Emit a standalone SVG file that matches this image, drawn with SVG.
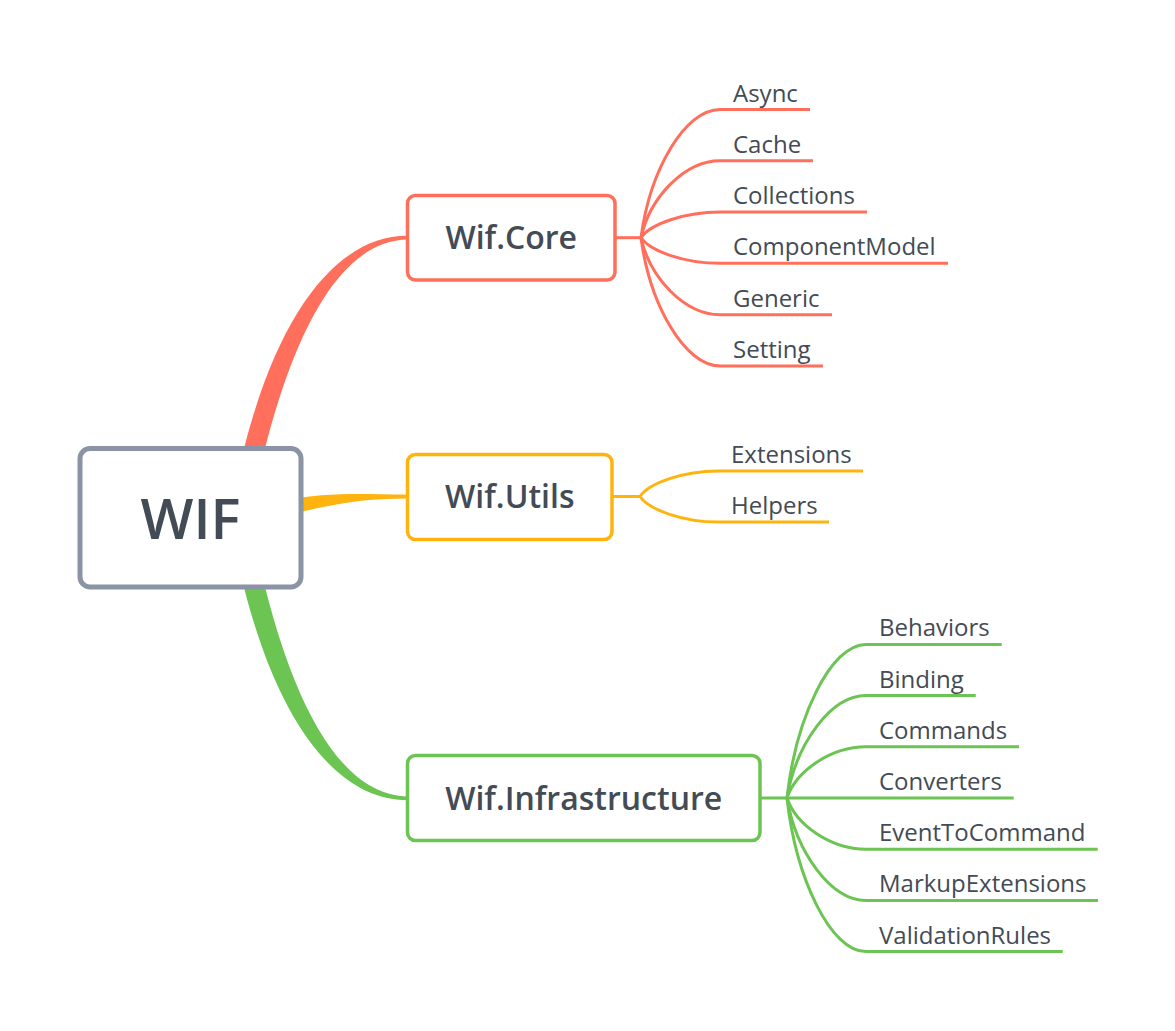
<svg xmlns="http://www.w3.org/2000/svg" width="1175" height="1031" viewBox="0 0 1175 1031">
<style>
.bg{fill:#ffffff}
.red{stroke:#ff6f5b}
.org{stroke:#ffb30f}
.grn{stroke:#6cc452}
.ln{fill:none;stroke-width:3;stroke-linecap:butt}
.box{fill:#ffffff;stroke-width:3.5}
.t{font-family:"Open Sans","Noto Sans","Liberation Sans",sans-serif;fill:#434b55}
.lbl{font-size:24px}
.main{font-size:32px;font-weight:600;text-anchor:middle}
.root{font-size:56px;font-weight:600;text-anchor:middle}
</style>
<rect class="bg" x="0" y="0" width="1175" height="1031"/>
<g id="connectors">
  <path d="M235,488 C270,317 336,235.5 407.5,235.8 L407.5,239.6 C344,240.5 291,323 255,492 Z" fill="#ff6f5b"/>
  <path d="M280,501 C330,491.5 360,494.5 407.5,494.5 L407.5,498.5 C360,498.5 330,504.5 280,517 Z" fill="#ffb30f"/>
  <path d="M235,548 C270,719 336,800.5 407.5,800.2 L407.5,796.4 C344,795.5 291,713 255,544 Z" fill="#6cc452"/>
  <g class="ln red">
    <path d="M615,237.7 H641"/>
    <path d="M641,237.7 C650,169.7 685,109.45 720,109.45 H810"/>
    <path d="M641,237.7 C650,196.9 685,160.75 720,160.75 H813"/>
    <path d="M641,237.7 C650,224.1 685,212.05 720,212.05 H867"/>
    <path d="M641,237.7 C650,251.3 685,263.35 720,263.35 H948"/>
    <path d="M641,237.7 C650,278.5 685,314.65 720,314.65 H832"/>
    <path d="M641,237.7 C650,305.7 685,365.95 720,365.95 H823"/>
  </g>
  <g class="ln org">
    <path d="M612,496.5 H640"/>
    <path d="M640,496.5 C649,483 684,471 718,471 H863"/>
    <path d="M640,496.5 C649,510 684,522 718,522 H829"/>
  </g>
  <g class="ln grn">
    <path d="M760,798 H787"/>
    <path d="M787,798 C796,716.6 831,644.4 866,644.4 H1001.7"/>
    <path d="M787,798 C796,743.7 831,695.6 866,695.6 H975.7"/>
    <path d="M787,798 C796,770.9 831,746.8 866,746.8 H1019"/>
    <path d="M787,798 H1013.7"/>
    <path d="M787,798 C796,825.1 831,849.2 866,849.2 H1097.7"/>
    <path d="M787,798 C796,852.3 831,900.4 866,900.4 H1098"/>
    <path d="M787,798 C796,879.4 831,951.6 866,951.6 H1062.7"/>
  </g>
</g>
<g id="root">
  <rect x="80" y="448.5" width="221" height="138.5" rx="10" fill="#ffffff" stroke="#8a94a4" stroke-width="5"/>
  <text class="t root" x="190.5" y="539">WIF</text>
</g>
<g id="core">
  <rect class="box red" x="407.5" y="195.5" width="207.5" height="84.5" rx="8"/>
  <text class="t main" x="511.2" y="248.5">Wif.Core</text>
</g>
<g id="utils">
  <rect class="box org" x="407.5" y="454.5" width="204.5" height="85" rx="8"/>
  <text class="t main" x="509.8" y="508">Wif.Utils</text>
</g>
<g id="infra">
  <rect class="box grn" x="407.5" y="755.5" width="352.5" height="85" rx="8"/>
  <text class="t main" x="583.7" y="810">Wif.Infrastructure</text>
</g>
<g id="core-children" class="t lbl">
  <text x="733" y="101.5">Async</text>
  <text x="733" y="152.8">Cache</text>
  <text x="733" y="204">Collections</text>
  <text x="733" y="255.3">ComponentModel</text>
  <text x="733" y="306.6">Generic</text>
  <text x="733" y="358">Setting</text>
</g>
<g id="utils-children" class="t lbl">
  <text x="731" y="463">Extensions</text>
  <text x="731" y="514">Helpers</text>
</g>
<g id="infra-children" class="t lbl">
  <text x="879" y="636.4">Behaviors</text>
  <text x="879" y="687.6">Binding</text>
  <text x="879" y="738.8">Commands</text>
  <text x="879" y="790">Converters</text>
  <text x="879" y="841.2">EventToCommand</text>
  <text x="879" y="892.4">MarkupExtensions</text>
  <text x="879" y="943.6">ValidationRules</text>
</g>
</svg>
